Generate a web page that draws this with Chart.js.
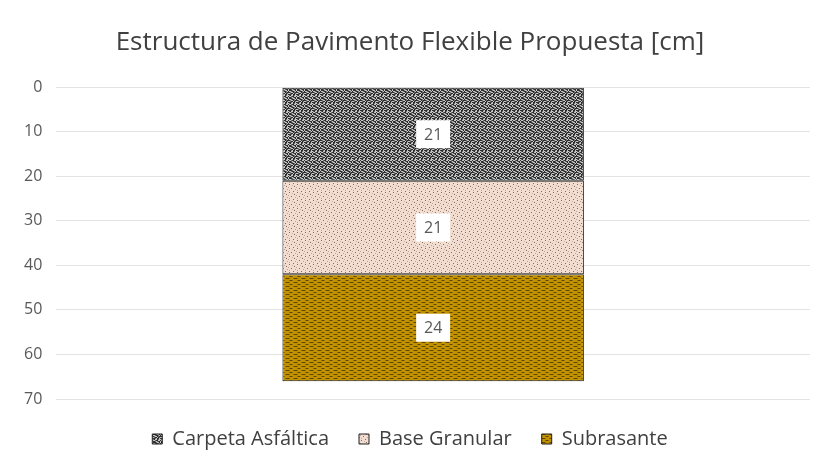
<!DOCTYPE html>
<html>
<head>
<meta charset="utf-8">
<script src="https://cdn.jsdelivr.net/npm/chart.js@4/dist/chart.umd.min.js"></script>
<style>
  html, body { margin: 0; padding: 0; background: #fff; }
  #wrap { width: 818px; height: 475px; }
</style>
</head>
<body>
<div id="wrap"><canvas id="chart" width="818" height="475"></canvas></div>
<script>
// Data
const categories = ['Estructura'];
const layerNames = ['Carpeta Asfáltica', 'Base Granular', 'Subrasante'];
const carpeta = [21];
const base = [21];
const subrasante = [24];
const yTicks = [0, 10, 20, 30, 40, 50, 60, 70];

// Pattern tiles (Excel-like textures): each char picks a colour
const tiles = {
    carpeta: {
        colors: { '0': '#2c2c2c', '1': '#c6c6c6', '2': '#6e6e6e' },
        rows: ['01120011',
               '10021200',
               '10002110',
               '01120021',
               '00211020',
               '11200102',
               '00021001',
               '12011021']
    },
    base: {
        colors: { '0': '#f3ddd0', '1': '#b8a59b', '2': '#7f6d65' },
        rows: ['02000000',
               '00001000',
               '00000020',
               '10000000',
               '00020000',
               '00000001',
               '01000000',
               '00000200']
    },
    subrasante: {
        colors: { '0': '#c29200', '1': '#5e4500', '2': '#8f6c00' },
        rows: ['02112000',
               '00000000',
               '12000211',
               '00000000']
    }
};

function makePattern(kind) {
    const t = tiles[kind];
    const c = document.createElement('canvas');
    c.width = t.rows[0].length;
    c.height = t.rows.length;
    const g = c.getContext('2d');
    t.rows.forEach((row, y) => {
        for (let x = 0; x < row.length; x++) {
            g.fillStyle = t.colors[row[x]];
            g.fillRect(x, y, 1, 1);
        }
    });
    return document.getElementById('chart').getContext('2d').createPattern(c, 'repeat');
}

const fills = [makePattern('carpeta'), makePattern('base'), makePattern('subrasante')];

// White box labels in the middle of each segment
const boxLabels = {
    id: 'boxLabels',
    afterDatasetsDraw(chart) {
        const ctx = chart.ctx;
        ctx.save();
        ctx.font = '16px "Open Sans", sans-serif';
        ctx.textAlign = 'center';
        ctx.textBaseline = 'middle';
        chart.data.datasets.forEach((ds, i) => {
            chart.getDatasetMeta(i).data.forEach((bar, j) => {
                const p = bar.getProps(['x', 'y', 'base'], true);
                const cy = (p.y + p.base) / 2;
                ctx.fillStyle = '#ffffff';
                ctx.fillRect(p.x - 17, cy - 14, 34, 28);
                ctx.fillStyle = '#595959';
                ctx.fillText(String(ds.data[j]), p.x, cy + 1);
            });
        });
        ctx.restore();
    }
};

new Chart(document.getElementById('chart'), {
    type: 'bar',
    data: {
        labels: categories,
        datasets: [
            { label: layerNames[0], data: carpeta, backgroundColor: fills[0] },
            { label: layerNames[1], data: base, backgroundColor: fills[1] },
            { label: layerNames[2], data: subrasante, backgroundColor: fills[2] }
        ].map(d => Object.assign(d, {
            borderColor: '#1e1e1e',
            borderWidth: 1,
            borderSkipped: false,
            categoryPercentage: 1,
            barPercentage: 0.4
        }))
    },
    options: {
        responsive: false,
        animation: false,
        layout: { padding: { left: 10, right: 8, top: 6, bottom: 16 } },
        plugins: {
            title: {
                display: true,
                text: 'Estructura de Pavimento Flexible Propuesta [cm]',
                color: '#404040',
                font: { family: '"Open Sans", sans-serif', size: 26, weight: 'normal' },
                padding: { top: 21, bottom: 29 }
            },
            legend: {
                position: 'bottom',
                labels: {
                    color: '#404040',
                    font: { family: '"Open Sans", sans-serif', size: 20 },
                    boxWidth: 10,
                    boxHeight: 10,
                    padding: 30
                }
            },
            tooltip: { enabled: false }
        },
        scales: {
            x: {
                display: false,
                stacked: true
            },
            y: {
                stacked: true,
                reverse: true,
                min: 0,
                max: 70,
                afterBuildTicks(axis) {
                    axis.ticks = yTicks.map(v => ({ value: v }));
                },
                ticks: {
                    color: '#595959',
                    font: { family: '"Open Sans", sans-serif', size: 16 },
                    padding: 14
                },
                grid: { color: '#e3e3e3', drawTicks: false },
                border: { display: false }
            }
        }
    },
    plugins: [boxLabels]
});
</script>
</body>
</html>
